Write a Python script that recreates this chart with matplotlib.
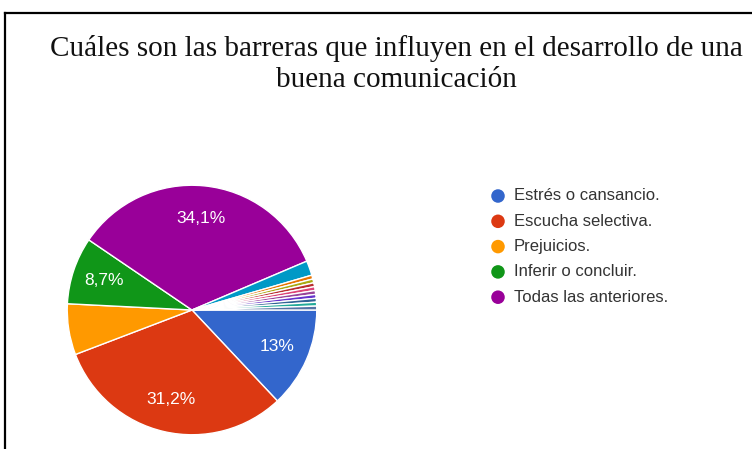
import matplotlib
matplotlib.use('Agg')
import matplotlib.pyplot as plt

# datos (porcentaje de respuestas)
labels = ['Estrés o cansancio.', 'Escucha selectiva.', 'Prejuicios.',
          'Inferir o concluir.', 'Todas las anteriores.', 'Otro 1',
          'Otro 2', 'Otro 3', 'Otro 4', 'Otro 5', 'Otro 6', 'Otro 7',
          'Otro 8', 'Otro 9', 'Otro 10']
values = [13.0, 31.2, 6.6, 8.7, 34.1, 1.9,
          0.5, 0.5, 0.5, 0.5, 0.5, 0.5, 0.5, 0.5, 0.5]
colors = ['#3366cc', '#dc3912', '#ff9900', '#109618', '#990099', '#0099c6',
          '#e67300', '#aaaa11', '#b82e2e', '#dd4477', '#994499', '#6633cc',
          '#316395', '#22aa99', '#5574a6']
n_legend = 5

title_1 = 'Cuáles son las barreras que influyen en el desarrollo de una'
title_2 = 'buena comunicación'

W, H = 752, 449
fig = plt.figure(figsize=(W / 100, H / 100), dpi=100)

# capa en pixeles para marco, titulo y leyenda
ov = fig.add_axes([0, 0, 1, 1])
ov.set_xlim(0, W)
ov.set_ylim(H, 0)
ov.axis('off')

# marco (solo arriba e izquierda)
ov.plot([5, W], [13, 13], color='black', lw=1.6)
ov.plot([5, 5], [13, H], color='black', lw=1.6)

ov.text(396, 48, title_1, ha='center', va='center',
        family='Liberation Serif', fontsize=21, color='#111111')
ov.text(396, 80, title_2, ha='center', va='center',
        family='Liberation Serif', fontsize=21, color='#111111')

# pie: centro (192, 310) radio 126 px
cx, cy, r = 192, 310, 126
ax = fig.add_axes([(cx - r) / W, (H - cy - r) / H, 2 * r / W, 2 * r / H])


def fmt(p):
    if p < 8:
        return ''
    s = '{:.1f}'.format(p).replace('.', ',')
    if s.endswith(',0'):
        s = s[:-2]
    return s + '%'


wedges, texts, autotexts = ax.pie(values, colors=colors, startangle=0,
                                  counterclock=False, autopct=fmt,
                                  pctdistance=0.74,
                                  wedgeprops=dict(edgecolor='white', linewidth=1),
                                  textprops=dict(color='white', fontsize=12.5,
                                                 family='Liberation Sans'))
ax.set_xlim(-1.01, 1.01)
ax.set_ylim(-1.01, 1.01)
ax.set_aspect('equal')
ax.axis('off')

# leyenda (solo las 5 primeras categorias)
y0, pitch = 196, 25.3
for i in range(n_legend):
    y = y0 + i * pitch
    ov.scatter([498], [y], s=95, color=colors[i], edgecolors='none')
    ov.text(514, y, labels[i], ha='left', va='center', fontsize=12,
            family='Liberation Sans', color='#333333')

fig.savefig('out.png', dpi=100)
